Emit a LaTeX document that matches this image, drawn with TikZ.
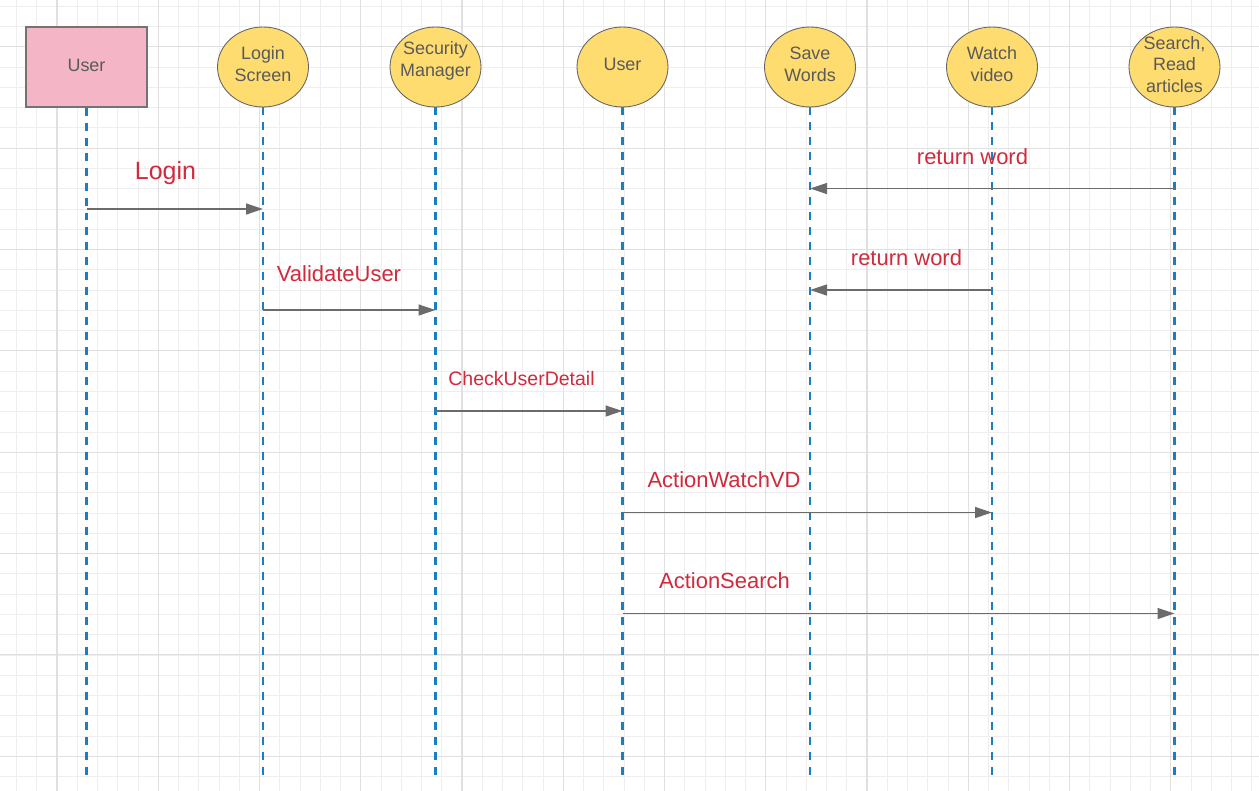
\documentclass[tikz,border=0pt]{standalone}
\usepackage{fontspec}
\setmainfont{Liberation Sans}
\usepackage{xcolor}
\usepackage{tikz}
\usetikzlibrary{arrows.meta, positioning, shapes.geometric}
\definecolor{gridminor}{HTML}{EEEEEE}
\definecolor{gridmajor}{HTML}{E0E0E0}
\definecolor{actorpink}{HTML}{F4B5C7}
\definecolor{objyellow}{HTML}{FFDC70}
\definecolor{lifeblue}{HTML}{1A7EC0}
\definecolor{msgred}{HTML}{D02A3C}
\definecolor{txtgray}{HTML}{5A5A5A}
\newcommand{\objtext}[2]{\raisebox{#1}[0pt][0pt]{\makebox[0pt]{\begin{tabular}{@{}c@{}}#2\end{tabular}}}}

\begin{document}
\begin{tikzpicture}[
  x=0.02cm, y=-0.02cm,
  minorline/.style={draw=gridminor, line width=0.5pt},
  majorline/.style={draw=gridmajor, line width=0.6pt},
  actor/.style={draw=black!55, fill=actorpink, line width=0.6pt, minimum width=2.42cm, minimum height=1.6cm, inner sep=0pt, text=txtgray, font=\fontsize{10.2}{12.4}\selectfont},
  object/.style={ellipse, draw=black!60, fill=objyellow, line width=0.5pt, minimum width=1.82cm, minimum height=1.6cm, inner sep=0pt, text=txtgray, font=\fontsize{10.2}{12.2}\selectfont},
  lifeline/.style={draw=lifeblue, line width=1.7pt, dash pattern=on 0.16cm off 0.14cm},
  msg/.style={-{Triangle[length=0.34cm, width=0.22cm]}, draw=black!58, line width=0.7pt},
  msglabel/.style={text=msgred, inner sep=0pt, font=\fontsize{12.5}{14}\selectfont}
]
\useasboundingbox (0,0) rectangle (1259,791);
\fill[white] (0,0) rectangle (1259,791);

% background grid
\foreach \i in {0,...,62}
  \draw[minorline] ({-3.8+20.25*\i},0) -- ({-3.8+20.25*\i},791);
\foreach \j in {0,...,39}
  \draw[minorline] (0,{6.3+20.27*\j}) -- (1259,{6.3+20.27*\j});
\foreach \i in {0,...,11}
  \draw[majorline] ({57+101.25*\i},0) -- ({57+101.25*\i},791);
\foreach \j in {0,...,7}
  \draw[majorline] (0,{46.8+101.35*\j}) -- (1259,{46.8+101.35*\j});

% participants
\node[actor] (user) at (86.5,67) {\objtext{-2.6pt}{User}};
\node[object] (login) at (263,67) {\objtext{-2pt}{Login\\Screen}};
\node[object] (security) at (435.5,67) {\objtext{0.8pt}{Security\\Manager}};
\node[object] (user2) at (622.5,67) {\objtext{-2pt}{User}};
\node[object] (savewords) at (810,67) {\objtext{-2pt}{Save\\Words}};
\node[object] (watch) at (992,67) {\objtext{-2pt}{Watch\\video}};
\node[object] (search) at (1174.5,67) {\objtext{-2.3pt}{Search,\\Read\\articles}};

% lifelines
\coordinate (bottom) at (0,775);
\draw[lifeline] (user) -- (user |- bottom);
\draw[lifeline] (login) -- (login |- bottom);
\draw[lifeline] (security) -- (security |- bottom);
\draw[lifeline] (user2) -- (user2 |- bottom);
\draw[lifeline] (savewords) -- (savewords |- bottom);
\draw[lifeline] (watch) -- (watch |- bottom);
\draw[lifeline] (search) -- (search |- bottom);

% message rows
\coordinate (rowA) at (0,188.5);
\coordinate (rowB) at (0,209);
\coordinate (rowC) at (0,290);
\coordinate (rowD) at (0,310);
\coordinate (rowE) at (0,411);
\coordinate (rowF) at (0,512.5);
\coordinate (rowG) at (0,613.5);

\draw[msg] (user |- rowB) -- (login |- rowB);
\draw[msg] (login |- rowD) -- (security |- rowD);
\draw[msg] (security |- rowE) -- (user2 |- rowE);
\draw[msg] (user2 |- rowF) -- (watch |- rowF);
\draw[msg] (user2 |- rowG) -- (search |- rowG);
\draw[msg] (search |- rowA) -- (savewords |- rowA);
\draw[msg] (watch |- rowC) -- (savewords |- rowC);

% message labels
\node[msglabel, font=\fontsize{14.2}{16}\selectfont] (lblLogin) at (165.5,173) {Login};
\node[msglabel] (lblValidate) at (339,274) {ValidateUser};
\node[msglabel, font=\fontsize{11.1}{13}\selectfont] (lblCheck) at (521.5,379) {CheckUserDetail};
\node[msglabel] (lblWatch) at (724,480) {ActionWatchVD};
\node[msglabel] (lblSearch) at (724.5,581) {ActionSearch};
\node[msglabel] (lblReturnA) at (972.5,157) {return word};
\node[msglabel] (lblReturnB) at (906.5,258) {return word};
\end{tikzpicture}
\end{document}
